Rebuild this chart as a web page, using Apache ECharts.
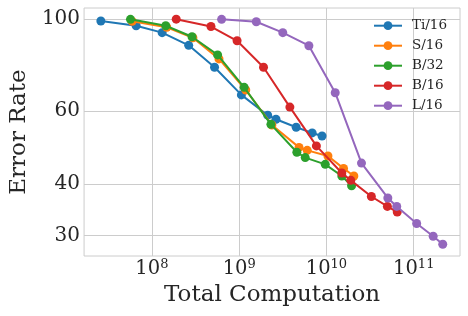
<!DOCTYPE html>
<html><head><meta charset="utf-8">
<script src="https://cdn.jsdelivr.net/npm/echarts@6/dist/echarts.min.js"></script>
<style>html,body{margin:0;padding:0;background:#fff}#c{width:468px;height:316px}</style>
</head><body><div id="c"></div>
<script>
const seriesNames = ['Ti/16', 'S/16', 'B/32', 'B/16', 'L/16'];
const colors = ['#1f77b4', '#ff7f0e', '#2ca02c', '#d62728', '#9467bd'];
const ti16X = [2.6e7, 6.6e7, 1.31e8, 2.64e8, 5.22e8, 1.06e9, 2.12e9, 2.64e9, 4.5e9, 6.86e9, 8.9e9];
const ti16Y = [98.9, 96.3, 92.7, 86.4, 76.5, 65.6, 58.6, 57.3, 54.8, 53.1, 52.2];
const s16X = [5.94e7, 1.48e8, 2.95e8, 5.87e8, 1.19e9, 2.37e9, 4.85e9, 6.02e9, 1.04e10, 1.57e10, 2.06e10];
const s16Y = [98.7, 95.5, 90.1, 80.1, 67.4, 55.5, 49.0, 48.2, 46.7, 43.6, 41.8];
const b32X = [5.68e7, 1.44e8, 2.88e8, 5.66e8, 1.14e9, 2.31e9, 4.58e9, 5.71e9, 9.69e9, 1.50e10, 1.94e10];
const b32Y = [99.8, 96.3, 90.6, 81.9, 68.4, 55.7, 47.7, 46.3, 44.6, 41.8, 39.6];
const b16X = [1.90e8, 4.75e8, 9.46e8, 1.90e9, 3.81e9, 7.67e9, 1.50e10, 1.90e10, 3.27e10, 4.99e10, 6.47e10];
const b16Y = [99.9, 95.9, 88.6, 76.5, 61.3, 49.4, 42.5, 40.8, 37.3, 35.3, 34.2];
const l16X = [6.29e8, 1.57e9, 3.16e9, 6.29e9, 1.26e10, 2.52e10, 5.05e10, 6.39e10, 1.08e11, 1.67e11, 2.15e11];
const l16Y = [99.8, 98.5, 92.7, 86.2, 66.4, 44.9, 37.0, 35.3, 32.1, 29.9, 28.6];
const xTicks = [1e8, 1e9, 1e10, 1e11];
const yTicks = [30, 40, 60, 100];
const xs = [ti16X, s16X, b32X, b16X, l16X];
const ys = [ti16Y, s16Y, b32Y, b16Y, l16Y];

const FONT = 'DejaVu Serif';
const TXT = '#262626';
const chart = echarts.init(document.getElementById('c'), null, {renderer: 'canvas'});
const series = seriesNames.map((n, i) => ({
  name: n, type: 'line', symbol: 'circle', symbolSize: 9, showAllSymbol: true,
  data: xs[i].map((x, j) => [x, ys[i][j]]),
  itemStyle: {color: colors[i]}, lineStyle: {width: 2, color: colors[i]},
  emphasis: {disabled: true}, animation: false, z: 2 + i
}));
chart.setOption({
  animation: false,
  grid: {left: 79, right: 8, top: 8, bottom: 60, show: true, borderColor: '#cccccc', borderWidth: 1},
  legend: {
    data: seriesNames, orient: 'vertical', left: 373, top: 15.7, padding: 0,
    itemWidth: 28, itemHeight: 11, itemGap: 0,
    textStyle: {fontFamily: FONT, fontSize: 13.5, color: TXT, lineHeight: 20, padding: [0, 0, 0, 5]}
  },
  xAxis: {
    type: 'log', logBase: 10, min: 1.67e7, max: 3.39e11,
    name: 'Total Computation', nameLocation: 'middle', nameGap: 26,
    nameTextStyle: {fontFamily: FONT, fontSize: 23, color: TXT},
    axisLine: {show: false}, axisTick: {show: false, customValues: xTicks},
    splitLine: {show: true, lineStyle: {color: '#cccccc', width: 1}},
    minorSplitLine: {show: false},
    axisLabel: {
      customValues: xTicks, margin: 2,
      formatter: v => '{b|10}{s|' + Math.round(Math.log10(v)) + '}',
      rich: {
        b: {fontFamily: FONT, fontSize: 19.5, color: TXT, lineHeight: 22},
        s: {fontFamily: FONT, fontSize: 13, color: TXT, lineHeight: 13, verticalAlign: 'top'}
      }
    }
  },
  yAxis: {
    type: 'log', logBase: 10, min: 26.8, max: 106.3,
    name: 'Error Rate', nameLocation: 'middle', nameGap: 50, nameRotate: 90,
    nameTextStyle: {fontFamily: FONT, fontSize: 23, color: TXT},
    axisLine: {show: false}, axisTick: {show: false, customValues: yTicks},
    splitLine: {show: true, lineStyle: {color: '#cccccc', width: 1}},
    axisLabel: {customValues: yTicks, margin: 4, fontFamily: FONT, fontSize: 20, color: TXT}
  },
  series: series
});
</script></body></html>
